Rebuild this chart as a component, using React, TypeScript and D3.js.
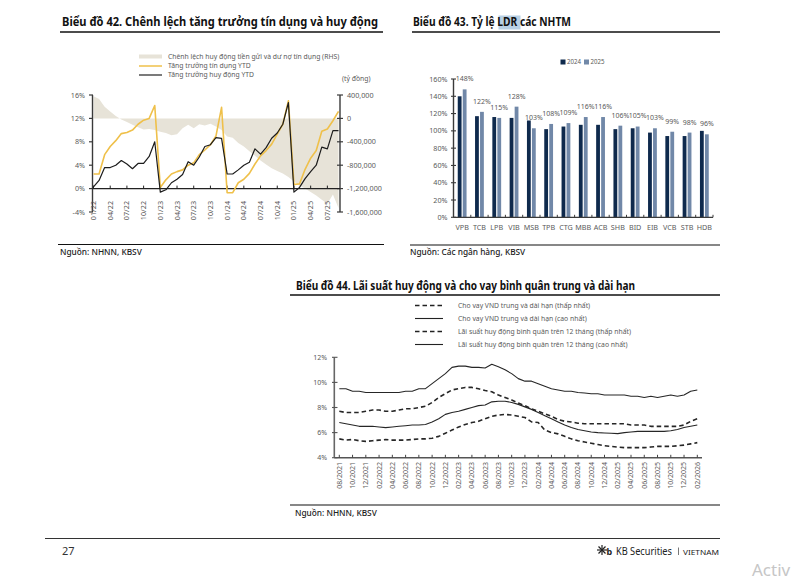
import React from "react";
import * as d3 from "d3";

// ---------- Chart 42 data ----------
const monthTicks42 = ["01/22","04/22","07/22","10/22","01/23","04/23","07/23","10/23","01/24","04/24","07/24","10/24","01/25","04/25","07/25"];
const creditYTD = [2.5,2.5,5.8,7.2,8.2,9.4,9.6,10.0,11.0,11.7,12.0,14.2,
  0.2,1.5,2.5,2.9,3.2,4.0,4.4,5.8,6.6,7.5,9.0,13.9,
  -0.7,-0.7,1.0,1.6,2.6,4.2,5.6,6.5,7.6,9.3,11.0,15.0,
  0.7,0.8,3.3,5.2,6.5,9.8,10.2,11.6,13.2];
const depositYTD = [0.3,1.4,3.6,3.6,4.0,4.8,4.2,3.4,4.3,4.3,5.5,8.0,
  -0.6,-0.2,1.0,1.6,2.4,4.6,4.0,5.4,7.2,7.5,8.7,8.6,
  2.5,2.5,3.2,4.0,4.5,6.8,5.9,7.0,8.6,9.5,11.0,14.7,
  -0.6,0.2,1.7,2.9,4.0,7.1,6.8,9.9,9.9];
const gapRHS = [380000,330000,200000,120000,40000,-20000,-60000,-110000,-150000,-190000,-180000,-200000,
  -230000,-250000,-290000,-270000,-170000,-110000,-170000,-100000,-120000,-90000,-140000,-200000,
  -310000,-330000,-420000,-480000,-560000,-640000,-720000,-790000,-850000,-900000,-940000,-1000000,
  -1080000,-1150000,-1200000,-1260000,-1320000,-1390000,-1460000,-1300000,-1530000];
const leftTicks42 = [16,12,8,4,0,-4];
const rightTicks42 = [400000,0,-400000,-800000,-1200000,-1600000];

// ---------- Chart 43 data ----------
const banks = ["VPB","TCB","LPB","VIB","MSB","TPB","CTG","MBB","ACB","SHB","BID","EIB","VCB","STB","HDB"];
const ldr2024 = [140,117,116,115,112,102,105,107,107,102,103,98,94,94,100];
const ldr2025 = [148,122,115,128,103,108,109,116,116,106,105,103,99,98,96];
const ldrTicks = [0,20,40,60,80,100,120,140,160];

// ---------- Chart 44 data ----------
const rateLabels = ["08/2021","10/2021","12/2021","02/2022","04/2022","06/2022","08/2022","10/2022","12/2022","02/2023","04/2023","06/2023","08/2023","10/2023","12/2023","02/2024","04/2024","06/2024","08/2024","10/2024","12/2024","02/2025","04/2025","06/2025","08/2025","10/2025","12/2025","02/2026"];
const loanLow = [7.7,7.6,7.6,7.6,7.7,7.8,7.8,7.7,7.7,7.8,
  7.9,7.9,8.0,8.1,8.4,8.8,9.1,9.4,9.5,9.6,
  9.6,9.5,9.35,9.25,9.0,8.8,8.6,8.35,8.15,7.9,
  7.7,7.5,7.3,7.05,6.9,6.85,6.75,6.7,6.7,6.7,
  6.7,6.7,6.7,6.7,6.6,6.6,6.6,6.5,6.5,6.5,
  6.5,6.5,6.6,6.9,7.1];
const loanHigh = [9.5,9.5,9.3,9.3,9.2,9.2,9.2,9.2,9.2,9.2,
  9.3,9.3,9.5,9.5,9.9,10.3,10.7,11.2,11.3,11.3,
  11.2,11.2,11.15,11.45,11.25,11.0,10.7,10.3,10.1,10.1,
  9.9,9.7,9.5,9.4,9.3,9.3,9.2,9.15,9.1,9.1,
  9.0,9.0,9.0,9.0,8.9,8.9,8.8,8.9,8.8,8.9,
  9.0,8.9,9.0,9.3,9.4];
const depLow = [5.5,5.4,5.45,5.35,5.3,5.35,5.4,5.45,5.4,5.4,
  5.4,5.45,5.5,5.5,5.55,5.7,5.95,6.2,6.45,6.65,
  6.8,6.9,7.1,7.3,7.4,7.45,7.4,7.3,7.2,6.85,
  6.8,6.2,6.0,5.9,5.7,5.5,5.35,5.25,5.15,5.05,
  4.95,4.9,4.85,4.8,4.8,4.8,4.8,4.85,4.9,4.9,
  4.9,4.95,5.0,5.1,5.2];
const depHigh = [6.8,6.7,6.6,6.5,6.5,6.5,6.45,6.4,6.45,6.5,
  6.55,6.6,6.6,6.65,6.85,7.1,7.45,7.6,7.7,7.85,
  8.0,8.15,8.2,8.45,8.5,8.5,8.4,8.25,8.05,7.85,
  7.6,7.35,7.1,6.85,6.6,6.4,6.25,6.15,6.05,6.0,
  5.97,5.95,5.92,6.0,6.05,6.1,6.1,6.1,6.1,6.1,
  6.15,6.25,6.4,6.5,6.6];
const rateTicks = [4,6,8,10,12];
const rateLegend = [
  "Cho vay VND trung và dài hạn (thấp nhất)",
  "Cho vay VND trung và dài hạn (cao nhất)",
  "Lãi suất huy động bình quân trên 12 tháng (thấp nhất)",
  "Lãi suất huy động bình quân trên 12 tháng (cao nhất)",
];

const FONT = "'Noto Sans', 'Open Sans', sans-serif";
const GRAY = "#5a5a5a";
const AX = "#3a3a3a";
const BEIGE = "#e7e3d8";
const GOLD = "#efc04a";
const NAVY = "#0f2a4d";
const STEEL = "#7188a8";

const fmtK = d3.formatLocale({ decimal: ".", thousands: ",", grouping: [3], currency: ["", ""], minus: "-" }).format(",");

export default function App() {
  // ---- Chart 42 scales ----
  const x42 = d3.scaleLinear().domain([0, creditYTD.length - 1]).range([93.5, 338.5]);
  const yL42 = d3.scaleLinear().domain([-4, 16]).range([212, 95]);
  const yR42 = d3.scaleLinear().domain([-1600000, 400000]).range([212, 95]);
  const area42 = d3.area<number>().x((_, i) => x42(i)).y0(yR42(0)).y1((d) => yR42(d));
  const line42 = d3.line<number>().x((_, i) => x42(i)).y((d) => yL42(d));

  // ---- Chart 43 scales ----
  const x43 = d3.scaleBand<string>().domain(banks).range([453.5, 713]);
  const y43 = d3.scaleLinear().domain([0, 160]).range([217.3, 79]);
  const bw = 3.8;

  // ---- Chart 44 scales ----
  const x44 = d3.scaleLinear().domain([0, loanHigh.length - 1]).range([339.3, 697.3]);
  const y44 = d3.scaleLinear().domain([4, 12]).range([457.7, 357.3]);
  const line44 = d3.line<number>().x((_, i) => x44(i)).y((d) => y44(d));
  const series44 = [
    { data: loanLow, dash: "4.5,3", w: 1.6 },
    { data: loanHigh, dash: undefined, w: 1.1 },
    { data: depLow, dash: "4.5,3", w: 1.6 },
    { data: depHigh, dash: undefined, w: 1.1 },
  ];

  return (
    <svg width={794} height={587} style={{ position: "absolute", left: 0, top: 0, background: "#fff" }} fontFamily={FONT}>
      <rect x={0} y={0} width={794} height={587} fill="#fff" />

      {/* ================= Chart 42 ================= */}
      <text x={62} y={26} fontSize={12} fontWeight={700} fill="#111" textLength={316} lengthAdjust="spacingAndGlyphs">
        Biểu đồ 42. Chênh lệch tăng trưởng tín dụng và huy động
      </text>
      <line x1={60} x2={383} y1={32} y2={32} stroke="#111" strokeWidth={1.3} />
      {/* legend */}
      <rect x={139} y={54.5} width={23} height={4} fill={BEIGE} />
      <text x={168} y={56.5} dy="0.35em" fontSize={6.8} fill={GRAY}>Chênh lệch huy động tiền gửi và dư nợ tín dụng (RHS)</text>
      <line x1={139} x2={162} y1={66} y2={66} stroke={GOLD} strokeWidth={1.5} />
      <text x={168} y={66} dy="0.35em" fontSize={6.8} fill={GRAY}>Tăng trưởng tín dụng YTD</text>
      <line x1={139} x2={162} y1={75} y2={75} stroke="#222" strokeWidth={1.2} />
      <text x={168} y={75} dy="0.35em" fontSize={6.8} fill={GRAY}>Tăng trưởng huy động YTD</text>
      <text x={342} y={81} fontSize={6.8} fill={GRAY}>(tỷ đồng)</text>

      <path d={area42(gapRHS) ?? ""} fill={BEIGE} />
      {/* axes */}
      <line x1={92.5} x2={92.5} y1={95} y2={212} stroke={AX} strokeWidth={1.4} />
      {leftTicks42.map((t) => (
        <g key={"l" + t}>
          <line x1={89} x2={93} y1={yL42(t)} y2={yL42(t)} stroke={AX} strokeWidth={1.2} />
          <text x={85} y={yL42(t)} dy="0.35em" textAnchor="end" fontSize={7.2} fill={GRAY}>{t}%</text>
        </g>
      ))}
      <line x1={340} x2={340} y1={95} y2={212} stroke={AX} strokeWidth={1.4} />
      {rightTicks42.map((t) => (
        <g key={"r" + t}>
          <line x1={337} x2={343} y1={yR42(t)} y2={yR42(t)} stroke={AX} strokeWidth={1.2} />
          <text x={347} y={yR42(t)} dy="0.35em" textAnchor="start" fontSize={7.2} fill={GRAY}>{fmtK(t)}</text>
        </g>
      ))}
      <line x1={92.5} x2={340} y1={yL42(0)} y2={yL42(0)} stroke="#222" strokeWidth={1.3} />
      {monthTicks42.map((lab, j) => {
        const xx = x42(j * 3);
        return (
          <g key={lab}>
            <line x1={xx} x2={xx} y1={yL42(0)} y2={yL42(0) - 3} stroke="#222" strokeWidth={1} />
            <text transform={`translate(${xx},${201}) rotate(-90)`} dy="0.35em" textAnchor="end" fontSize={7.2} fill={GRAY}>{lab}</text>
          </g>
        );
      })}
      <path d={line42(creditYTD) ?? ""} fill="none" stroke={GOLD} strokeWidth={1.6} strokeLinejoin="round" />
      <path d={line42(depositYTD) ?? ""} fill="none" stroke="#1c1c1c" strokeWidth={1.2} strokeLinejoin="round" />

      <line x1={58} x2={384} y1={244.5} y2={244.5} stroke="#111" strokeWidth={1.2} />
      <text x={60} y={254.5} fontSize={8.3} fill="#222" fontWeight={500}>Nguồn: NHNN, KBSV</text>

      {/* ================= Chart 43 ================= */}
      <rect x={498.5} y={15.5} width={22} height={14} fill="#b8d0e4" />
      <text x={413} y={26} fontSize={12} fontWeight={700} fill="#111" textLength={158} lengthAdjust="spacingAndGlyphs">
        Biểu đồ 43. Tỷ lệ LDR các NHTM
      </text>
      <line x1={412} x2={720} y1={32} y2={32} stroke="#111" strokeWidth={1.3} />
      {/* legend */}
      <rect x={560.5} y={59.5} width={5} height={5} fill={NAVY} />
      <text x={567} y={62} dy="0.35em" fontSize={7} fill={GRAY} textLength={14} lengthAdjust="spacingAndGlyphs">2024</text>
      <rect x={584} y={59.5} width={5} height={5} fill={STEEL} />
      <text x={590.5} y={62} dy="0.35em" fontSize={7} fill={GRAY} textLength={14} lengthAdjust="spacingAndGlyphs">2025</text>

      {banks.map((b, i) => {
        const c = (x43(b) ?? 0) + x43.bandwidth() / 2;
        return (
          <g key={b}>
            <rect x={c - bw - 0.6} y={y43(ldr2024[i])} width={bw} height={y43(0) - y43(ldr2024[i])} fill={NAVY} />
            <rect x={c + 0.6} y={y43(ldr2025[i])} width={bw} height={y43(0) - y43(ldr2025[i])} fill={STEEL} />
            <text x={c + 0.6 + bw / 2} y={y43(ldr2025[i]) - 10.5} dy="0.35em" textAnchor="middle" fontSize={7} fill={GRAY}>{ldr2025[i]}%</text>
            <text x={c} y={227.5} dy="0.35em" textAnchor="middle" fontSize={7.2} fill={GRAY}>{b}</text>
          </g>
        );
      })}
      <line x1={453.5} x2={453.5} y1={79} y2={217.3} stroke={AX} strokeWidth={1.4} />
      {ldrTicks.map((t) => (
        <g key={"t" + t}>
          <line x1={451} x2={456} y1={y43(t)} y2={y43(t)} stroke={AX} strokeWidth={1.1} />
          <text x={447.5} y={y43(t)} dy="0.35em" textAnchor="end" fontSize={7.2} fill={GRAY}>{t}%</text>
        </g>
      ))}
      <line x1={453.5} x2={713} y1={217.3} y2={217.3} stroke={AX} strokeWidth={1.3} />
      {banks.slice(1).map((b) => {
        const xx = x43(b) ?? 0;
        return <line key={"bt" + b} x1={xx} x2={xx} y1={217.3} y2={214.8} stroke={AX} strokeWidth={1} />;
      })}
      <line x1={713} x2={713} y1={217.3} y2={214.8} stroke={AX} strokeWidth={1} />

      <line x1={410} x2={720} y1={245} y2={245} stroke="#111" strokeWidth={1.2} />
      <text x={410} y={254.5} fontSize={8.3} fill="#222" fontWeight={500}>Nguồn: Các ngân hàng, KBSV</text>

      {/* ================= Chart 44 ================= */}
      <text x={296} y={290} fontSize={12} fontWeight={700} fill="#111" textLength={339} lengthAdjust="spacingAndGlyphs">
        Biểu đồ 44. Lãi suất huy động và cho vay bình quân trung và dài hạn
      </text>
      <line x1={290} x2={720} y1={295} y2={295} stroke="#111" strokeWidth={1.3} />
      {rateLegend.map((lab, k) => {
        const yy = 305.5 + k * 13;
        const s = series44[k];
        return (
          <g key={lab}>
            <line x1={415} x2={443} y1={yy} y2={yy} stroke="#222" strokeWidth={s.w} strokeDasharray={s.dash} />
            <text x={458} y={yy} dy="0.35em" fontSize={6.8} fill={GRAY}>{lab}</text>
          </g>
        );
      })}
      <line x1={334.3} x2={334.3} y1={357.3} y2={457.7} stroke="#666" strokeWidth={1.6} />
      {rateTicks.map((t) => (
        <g key={"rt" + t}>
          <line x1={332} x2={337.5} y1={y44(t)} y2={y44(t)} stroke="#555" strokeWidth={1.1} />
          <text x={327} y={y44(t)} dy="0.35em" textAnchor="end" fontSize={7} fill={GRAY}>{t}%</text>
        </g>
      ))}
      <line x1={334.3} x2={702} y1={457.7} y2={457.7} stroke="#555" strokeWidth={1.4} />
      {rateLabels.map((lab, j) => {
        const xx = x44(j * 2);
        return (
          <g key={lab}>
            <line x1={xx} x2={xx} y1={457.7} y2={454.8} stroke="#444" strokeWidth={1} />
            <text transform={`translate(${xx},${462}) rotate(-90)`} dy="0.35em" textAnchor="end" fontSize={7} fill={GRAY}>{lab}</text>
          </g>
        );
      })}
      {series44.map((s, k) => (
        <path key={"s" + k} d={line44(s.data) ?? ""} fill="none" stroke="#262626" strokeWidth={s.w} strokeDasharray={s.dash} strokeLinejoin="round" />
      ))}

      <line x1={290} x2={720} y1={505} y2={505} stroke="#111" strokeWidth={1.2} />
      <text x={295} y={516} fontSize={8.3} fill="#222" fontWeight={500}>Nguồn: NHNN, KBSV</text>

      {/* ================= Footer ================= */}
      <line x1={45} x2={720} y1={538.5} y2={538.5} stroke="#333" strokeWidth={1} />
      <text x={62} y={555} fontSize={11} fill="#333">27</text>
      <g stroke="#222" strokeWidth={1.2}>
        <line x1={597} x2={607} y1={550} y2={550} />
        <line x1={602} x2={602} y1={545} y2={555} />
        <line x1={598.5} x2={605.5} y1={546.5} y2={553.5} />
        <line x1={598.5} x2={605.5} y1={553.5} y2={546.5} />
      </g>
      <text x={606.5} y={555} fontSize={9} fill="#222" fontWeight={700}>b</text>
      <text x={616} y={555} fontSize={10.5} fill="#222" textLength={56} lengthAdjust="spacingAndGlyphs">KB Securities</text>
      <line x1={678.5} x2={678.5} y1={547.5} y2={555} stroke="#555" strokeWidth={0.8} />
      <text x={683} y={554.5} fontSize={7} fill="#222" textLength={36} lengthAdjust="spacingAndGlyphs">VIETNAM</text>
      <text x={752} y={576} fontSize={17} fill="#c6c6c6">Activ</text>
    </svg>
  );
}
